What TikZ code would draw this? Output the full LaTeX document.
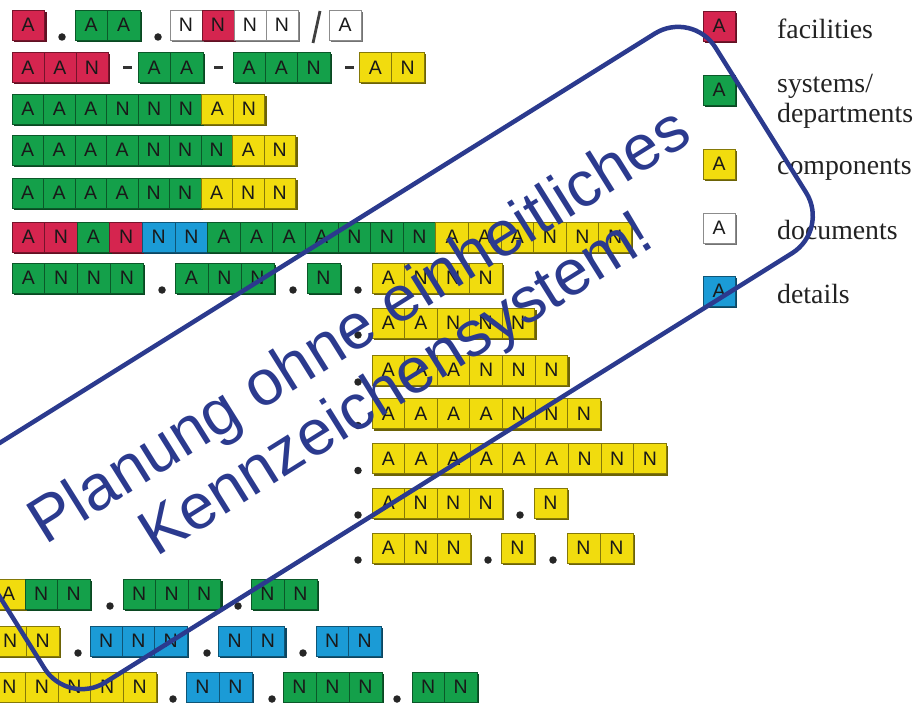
\documentclass[tikz,border=0pt]{standalone}
\usepackage{fontspec}
\setmainfont{Liberation Serif}
\newfontfamily\cellfont{Liberation Sans}

\definecolor{cR}{HTML}{D5254F}
\definecolor{cG}{HTML}{14A04A}
\definecolor{cY}{HTML}{F1DC0E}
\definecolor{cB}{HTML}{1B9BD6}
\definecolor{cW}{HTML}{FFFFFF}
\definecolor{navy}{HTML}{2B3A8E}
\definecolor{ink}{HTML}{222222}

% one group of code cells: name, left x, centre y, cell width, list of colour/letter
\newcommand\cellgroup[5]{%
  \foreach \cellC/\cellL [count=\cellI from 0] in {#5}{%
    \fill[\cellC!45!black] (#2+\cellI*#4+2, #3-13) rectangle (#2+\cellI*#4+#4+2, #3+17);
  }%
  \foreach \cellC/\cellL [count=\cellI from 0] in {#5}{%
    \node[cellbox=\cellC, minimum width=#4pt] (#1-\cellI) at (#2+\cellI*#4+#4/2, #3) {\cellL};
  }%
}

\begin{document}
\begin{tikzpicture}[x=1pt, y=-1pt,
  cellbox/.style={draw=#1!55!black, fill=#1, minimum height=30pt, inner sep=0pt,
    line width=0.7pt, text=black!90, font=\cellfont\fontsize{19.5}{19.5}\selectfont},
  dotmark/.style={circle, fill=black!85, inner sep=0pt, minimum size=7.5pt},
  dashmark/.style={rectangle, fill=black!80, inner sep=0pt, minimum width=9pt, minimum height=3pt},
  legendtxt/.style={anchor=base west, inner sep=0pt, text=ink,
    font=\fontsize{27.8}{30.5}\selectfont},
  banner/.style={anchor=base, inner sep=0pt, rotate=32, text=navy,
    font=\cellfont\fontsize{64}{64}\selectfont}]
\useasboundingbox (0,0) rectangle (915,703);
\clip (0,0) rectangle (915,703);

% row 1
\cellgroup{r1a}{12}{25}{32.5}{cR/A}
\node[dotmark] (d1a) at (62,37) {};
\cellgroup{r1b}{75}{25}{32.5}{cG/A,cG/A}
\node[dotmark] (d1b) at (158,37) {};
\cellgroup{r1c}{170}{25}{32}{cW/N,cR/N,cW/N,cW/N}
\draw[line width=2.8pt, black!75] (320,11) -- (313,43);
\cellgroup{r1d}{329}{25}{32}{cW/A}

% row 2
\cellgroup{r2a}{12}{67.5}{32}{cR/A,cR/A,cR/N}
\node[dashmark] (h2a) at (127.5,68) {};
\cellgroup{r2b}{138}{67.5}{32.5}{cG/A,cG/A}
\node[dashmark] (h2b) at (218,68) {};
\cellgroup{r2c}{233}{67.5}{32.3}{cG/A,cG/A,cG/N}
\node[dashmark] (h2c) at (349.5,68) {};
\cellgroup{r2d}{359}{67.5}{32.5}{cY/A,cY/N}

% rows 3 to 6
\cellgroup{r3}{12}{109}{31.6}{cG/A,cG/A,cG/A,cG/N,cG/N,cG/N,cY/A,cY/N}
\cellgroup{r4}{12}{150}{31.5}{cG/A,cG/A,cG/A,cG/A,cG/N,cG/N,cG/N,cY/A,cY/N}
\cellgroup{r5}{12}{193}{31.5}{cG/A,cG/A,cG/A,cG/A,cG/N,cG/N,cY/A,cY/N,cY/N}
\cellgroup{r6}{12}{237}{32.6}{cR/A,cR/N,cG/A,cR/N,cB/N,cB/N,cG/A,cG/A,cG/A,cG/A,cG/N,cG/N,cG/N,cY/A,cY/A,cY/A,cY/N,cY/N,cY/N}

% row 7
\cellgroup{r7a}{12}{278}{32.8}{cG/A,cG/N,cG/N,cG/N}
\node[dotmark] (d7a) at (162,290) {};
\cellgroup{r7b}{175}{278}{33}{cG/A,cG/N,cG/N}
\node[dotmark] (d7b) at (293,290) {};
\cellgroup{r7c}{307}{278}{33}{cG/N}
\node[dotmark] (d7c) at (358,290) {};
\cellgroup{r7d}{372}{278}{32.5}{cY/A,cY/N,cY/N,cY/N}

% component rows
\node[dotmark] (d8) at (358,335) {};
\cellgroup{r8}{372}{323}{32.5}{cY/A,cY/A,cY/N,cY/N,cY/N}
\node[dotmark] (d9) at (358,382) {};
\cellgroup{r9}{372}{370}{32.6}{cY/A,cY/A,cY/A,cY/N,cY/N,cY/N}
\node[dotmark] (d10) at (358,425.5) {};
\cellgroup{r10}{372}{413.5}{32.6}{cY/A,cY/A,cY/A,cY/A,cY/N,cY/N,cY/N}
\node[dotmark] (d11) at (358,470.5) {};
\cellgroup{r11}{372}{458.5}{32.7}{cY/A,cY/A,cY/A,cY/A,cY/A,cY/A,cY/N,cY/N,cY/N}
\node[dotmark] (d12a) at (358,515) {};
\cellgroup{r12a}{372}{503}{32.5}{cY/A,cY/N,cY/N,cY/N}
\node[dotmark] (d12b) at (520,515) {};
\cellgroup{r12b}{534}{503}{33}{cY/N}
\node[dotmark] (d13a) at (358,560) {};
\cellgroup{r13a}{372}{548}{32.7}{cY/A,cY/N,cY/N}
\node[dotmark] (d13b) at (488,560) {};
\cellgroup{r13b}{501}{548}{33}{cY/N}
\node[dotmark] (d13c) at (553,560) {};
\cellgroup{r13c}{567}{548}{33}{cY/N,cY/N}

% bottom rows
\cellgroup{r14a}{-7.5}{594}{32.5}{cY/A,cG/N,cG/N}
\node[dotmark] (d14a) at (110,606) {};
\cellgroup{r14b}{123}{594}{32.5}{cG/N,cG/N,cG/N}
\node[dotmark] (d14b) at (238,606) {};
\cellgroup{r14c}{251}{594}{33}{cG/N,cG/N}

\cellgroup{r15a}{-6}{641}{32.5}{cY/N,cY/N}
\node[dotmark] (d15a) at (78,653) {};
\cellgroup{r15b}{90}{641}{32.3}{cB/N,cB/N,cB/N}
\node[dotmark] (d15b) at (207,653) {};
\cellgroup{r15c}{218}{641}{33.3}{cB/N,cB/N}
\node[dotmark] (d15c) at (303,653) {};
\cellgroup{r15d}{316}{641}{32.5}{cB/N,cB/N}

\cellgroup{r16a}{-7}{687}{32.6}{cY/N,cY/N,cY/N,cY/N,cY/N}
\node[dotmark] (d16a) at (173,699) {};
\cellgroup{r16b}{186}{687}{33}{cB/N,cB/N}
\node[dotmark] (d16b) at (272,699) {};
\cellgroup{r16c}{283}{687}{33}{cG/N,cG/N,cG/N}
\node[dotmark] (d16c) at (397,699) {};
\cellgroup{r16d}{412}{687}{32.5}{cG/N,cG/N}

% legend
\cellgroup{lg1}{703}{26}{32}{cR/A}
\node[legendtxt] (t1) at (777,39) {facilities};
\cellgroup{lg2}{703}{90}{32}{cG/A}
\node[legendtxt] (t2a) at (777,92.5) {systems/};
\node[legendtxt] (t2b) at (777,123) {departments};
\cellgroup{lg3}{703}{164}{32}{cY/A}
\node[legendtxt] (t3) at (777,175) {components};
\cellgroup{lg4}{703}{228}{32}{cW/A}
\node[legendtxt] (t4) at (777,240) {documents};
\cellgroup{lg5}{703}{291}{32}{cB/A}
\node[legendtxt] (t5) at (777,303) {details};

% slanted banner
\node[draw=navy, line width=4.5pt, rounded corners=44pt, inner sep=0pt,
      minimum width=898pt, minimum height=259pt, rotate=32] (frame) at (380,358) {};
\node[banner] (line1) at (370,343) {Planung ohne einheitliches};
\node[banner] (line2) at (406.6,401.5) {Kennzeichensystem!};
\end{tikzpicture}
\end{document}
